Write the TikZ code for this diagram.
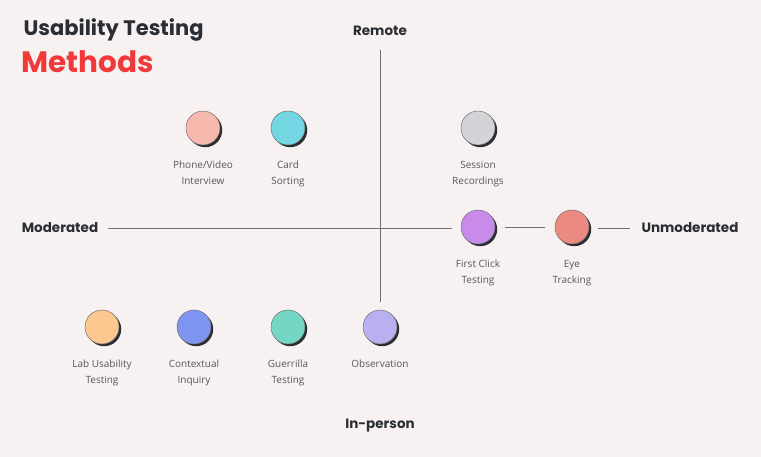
\documentclass[tikz,border=0pt]{standalone}
\usepackage{fontspec}
\setmainfont{Open Sans}
\newfontfamily\pop{Poppins}
\definecolor{bg}{HTML}{F7F2F1}
\definecolor{ink}{HTML}{2A2D33}
\definecolor{lbl}{HTML}{55575C}
\definecolor{axis}{HTML}{707070}
\definecolor{red1}{HTML}{F2393A}
\begin{document}
\begin{tikzpicture}[x=1pt,y=-1pt,
 dot/.style={circle,minimum size=34pt,inner sep=0pt,draw=axis,line width=0.5pt,fill=#1},
 lab/.style={font=\fontsize{10}{16}\selectfont,text=lbl,align=center},
 ax/.style={font=\pop\bfseries\fontsize{13.5}{16}\selectfont,text=ink},
 ln/.style={draw=axis,line width=0.6pt}]
\fill[bg] (0,0) rectangle (761,457);
\useasboundingbox (0,0) rectangle (761,457);
\node[anchor=west,font=\pop\bfseries\fontsize{21}{24}\selectfont,text=ink] (t1) at (20,30) {Usability Testing};
\node[anchor=west,font=\pop\bfseries\fontsize{29.5}{32}\selectfont,text=red1] (t2) at (18,62) {Methods};
\node[ax] (rem) at (380,31) {Remote};
\node[ax] (inp) at (380,426) {In-person};
\node[ax] (mod) at (60,228) {Moderated};
\node[ax] (unm) at (690,228) {Unmoderated};
\coordinate (vt) at (380,50); \coordinate (vb) at (380,302);
\coordinate (hl) at (108,228); \coordinate (hr) at (452,228);
\draw[ln] (vt) -- (vb);
\draw[ln] (hl) -- (hr);
\foreach \n/\x/\y/\c/\t in {
 phone/203/128/F7B8AE/{Phone/Video\\Interview},
 card/288/128/73D6E3/{Card\\Sorting},
 sess/478/128/D3D3D8/{Session\\Recordings},
 first/478/227/C98BE9/{First Click\\Testing},
 eye/572/227/EB8A80/{Eye\\Tracking},
 lab/102/327/FDC88F/{Lab Usability\\Testing},
 ctx/194/327/7D95F0/{Contextual\\Inquiry},
 gue/288/327/74D6C4/{Guerrilla\\Testing},
 obs/380/327/B8B0F0/{Observation}}{
 \definecolor{cc}{HTML}{\c}
 \fill[ink] (\x+2.2,\y+2.2) circle (17pt);
 \node[dot=cc] (\n) at (\x,\y) {};
 \node[lab,anchor=north] (\n-l) at (\x,\y+29.5) {\t};
}
\coordinate (e1) at (598,228); \coordinate (e2) at (630,228);
\draw[ln] ([xshift=10pt]first.east) -- ([xshift=-10pt]eye.west);
\draw[ln] (e1) -- (e2);
\end{tikzpicture}
\end{document}
